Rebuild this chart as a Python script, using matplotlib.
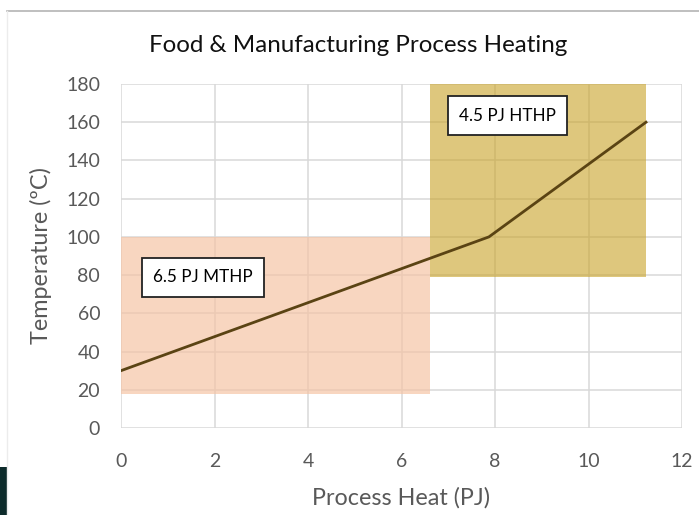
import matplotlib
matplotlib.use('Agg')
import matplotlib.pyplot as plt
from matplotlib.patches import Rectangle
from matplotlib.lines import Line2D

# curve: process heat (PJ) vs temperature (C)
heat = [0.0, 7.87, 11.23]
temp = [30, 100, 160]

# shaded heat-pump regions: (x0, x1, y0, y1)
mthp_span = (0.0, 6.6, 18, 100)
hthp_span = (6.6, 11.23, 79, 180)
mthp_label = '6.5 PJ MTHP'
hthp_label = '4.5 PJ HTHP'

xticks = [0, 2, 4, 6, 8, 10, 12]
yticks = list(range(0, 181, 20))

plt.rcParams['font.family'] = ['Lato', 'DejaVu Sans']
W, H = 699, 515
fig = plt.figure(figsize=(W / 100, H / 100), dpi=100)

# outer frame bits of the screenshot
fig.add_artist(Line2D([7 / W, 1], [1 - 11 / H] * 2, color='#b4b4b4', lw=1.2))
fig.add_artist(Line2D([7 / W] * 2, [0, 1 - 11 / H], color='#ececec', lw=1))
fig.add_artist(Rectangle((0, 0), 7 / W, 48 / H, color='#0d2b2b', lw=0))

ax = fig.add_axes([121 / W, 87 / H, 561 / W, 344 / H])
ax.set_xlim(0, 12)
ax.set_ylim(0, 180)
ax.set_xticks(xticks)
ax.set_yticks(yticks)
ax.grid(True, color='#d9d9d9', lw=1.1)
ax.set_axisbelow(True)
for sp in ax.spines.values():
    sp.set_visible(False)
ax.tick_params(length=0, labelsize=14, labelcolor='#595959')
ax.tick_params(axis='x', pad=18)
ax.tick_params(axis='y', pad=15)

x0, x1, y0, y1 = mthp_span
ax.add_patch(Rectangle((x0, y0), x1 - x0, y1 - y0, fc='#f5c3a3', alpha=0.68, lw=0, zorder=1))
x0, x1, y0, y1 = hthp_span
ax.add_patch(Rectangle((x0, y0), x1 - x0, y1 - y0, fc='#c9a227', alpha=0.6, lw=0, zorder=1))

ax.plot(heat, temp, color='#5a4313', lw=2, zorder=3)

box = dict(boxstyle='square,pad=0.65', fc='white', ec='#222222', lw=1.3)
ax.text(0.68, 78.8, mthp_label, fontsize=12.3, ha='left', va='center', bbox=box, zorder=4)
ax.text(7.23, 163.5, hthp_label, fontsize=12.3, ha='left', va='center', bbox=box, zorder=4)

ax.set_xlabel('Process Heat (PJ)', fontsize=16.8, color='#595959', labelpad=12)
ax.set_ylabel('Temperature (ºC)', fontsize=16.8, color='#595959', labelpad=10)
fig.text(358 / W, 1 - 46 / H, 'Food & Manufacturing Process Heating', fontsize=17.4,
         ha='center', va='center', color='#111111')

fig.savefig('out.png', dpi=100)
